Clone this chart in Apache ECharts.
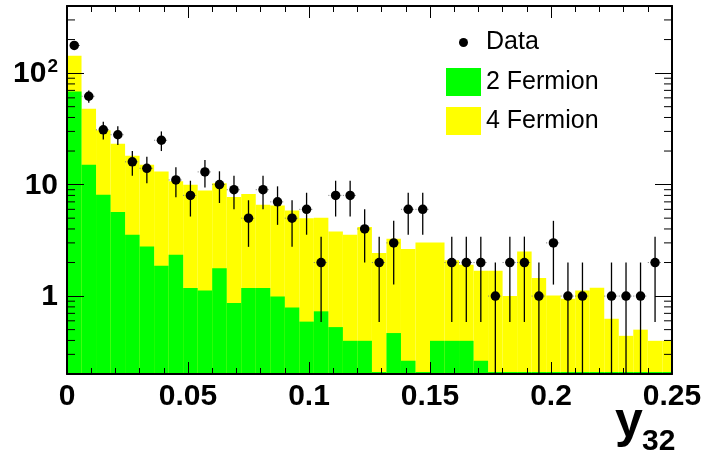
<!DOCTYPE html>
<html>
<head>
<meta charset="utf-8">
<script src="https://cdn.jsdelivr.net/npm/echarts@6/dist/echarts.min.js"></script>
<style>
  html, body { margin: 0; padding: 0; background: #fff; }
  #chart { width: 701px; height: 461px; }
</style>
</head>
<body>
<div id="chart"></div>
<script>
// y32 distribution: 42 bins of width 0.006 starting at 0
const binWidth = 0.006;

// 2-fermion expectation per bin
const twoFermion = [68.4, 15.1, 8.1, 5.67, 3.55, 2.78, 1.87, 2.35, 1.18, 1.12,
                    1.78, 0.865, 1.18, 1.18, 0.99, 0.79, 0.59, 0.73, 0.527, 0.397,
                    0.397, 0, 0.466, 0.263, 0, 0.397, 0.397, 0.397, 0.263, 0,
                    0, 0, 0, 0, 0, 0, 0, 0, 0, 0, 0, 0];

// 4-fermion expectation, stacked on top of the 2-fermion one (bin totals)
const fourFermion = [143, 47.9, 30.8, 23.2, 18.1, 15.1, 13.1, 10.7, 9.96, 8.86,
                     10.3, 7.75, 8.25, 6.59, 6.48, 5.86, 5.0, 5.05, 3.8, 3.55,
                     4.16, 2.43, 3.27, 2.64, 3.03, 3.03, 2.1, 1.91, 1.69, 1.69,
                     1.0, 2.51, 1.45, 1.01, 0.945, 1.12, 1.19, 0.626, 0.44, 0.5,
                     0.397, 0.397];

// observed events per bin
const dataCounts = [177, 62, 31, 28, 16, 14, 25, 11, 8, 13,
                    10, 9, 5, 9, 7, 5, 6, 2, 8, 8,
                    4, 2, 3, 6, 6, 0, 2, 2, 2, 1,
                    2, 2, 1, 3, 1, 1, 0, 1, 1, 1,
                    2, 0];

const xRange = [0, 0.25];
const yRange = [0.2, 400];
const yTickValues = [1, 10, 100];

const FONT = "'Liberation Sans', Arial, Helvetica, sans-serif";

const binCenter = i => (i + 0.5) * binWidth;
const histData = arr => arr.map((v, i) => [binCenter(i), v]);

// log-axis minor ticks at 2..9 of each decade
const yMinorTicks = [];
for (let d = -1; d <= 2; d++) {
  for (let k = 2; k <= 9; k++) {
    const v = k * Math.pow(10, d);
    if (v > yRange[0] && v < yRange[1]) yMinorTicks.push([0, v]);
  }
}

function histRenderer(minHeight) {
  return function (params, api) {
    const xc = api.value(0);
    const v = Math.max(api.value(1), yRange[0]);
    const p0 = api.coord([xc - binWidth / 2, v]);
    const p1 = api.coord([xc + binWidth / 2, yRange[0]]);
    let rect = { x: p0[0], y: p0[1], width: p1[0] - p0[0], height: p1[1] - p0[1] };
    if (rect.height < minHeight) { rect.y = p1[1] - minHeight; rect.height = minHeight; }
    const cs = params.coordSys;
    rect = echarts.graphic.clipRectByRect(rect, { x: cs.x, y: cs.y, width: cs.width, height: cs.height });
    if (!rect) return null;
    return { type: 'rect', shape: rect, style: { fill: api.visual('color') } };
  };
}

function errorRenderer(params, api) {
  const x = api.value(0), n = api.value(1);
  const e = Math.sqrt(n);
  const top = api.coord([x, n + e]);
  const bot = api.coord([x, Math.max(n - e, yRange[0])]);
  const l = api.coord([x - binWidth / 2, n]);
  const r = api.coord([x + binWidth / 2, n]);
  return {
    type: 'group',
    children: [
      { type: 'line', shape: { x1: top[0], y1: top[1], x2: bot[0], y2: bot[1] },
        style: { stroke: '#000', lineWidth: 1.3 } },
      { type: 'line', shape: { x1: l[0], y1: l[1], x2: r[0], y2: r[1] },
        style: { stroke: '#777', lineWidth: 1, lineDash: [1, 2] } }
    ]
  };
}

function minorTickRenderer(params, api) {
  const cs = params.coordSys;
  const y = api.coord([0, api.value(1)])[1];
  const len = 8;
  return {
    type: 'group',
    children: [
      { type: 'line', shape: { x1: cs.x, y1: y, x2: cs.x + len, y2: y }, style: { stroke: '#000', lineWidth: 1 } },
      { type: 'line', shape: { x1: cs.x + cs.width - len, y1: y, x2: cs.x + cs.width, y2: y }, style: { stroke: '#000', lineWidth: 1 } }
    ]
  };
}

const pointData = dataCounts
  .map((n, i) => [binCenter(i), n])
  .filter(p => p[1] > 0);

const axisLineStyle = { color: '#000', width: 2 };

function xAxisDef(position, showLabel) {
  return {
    type: 'value', position: position, min: xRange[0], max: xRange[1], interval: 0.05,
    z: 10,
    axisLine: { show: true, onZero: false, lineStyle: axisLineStyle },
    axisTick: { show: true, inside: true, length: 12, lineStyle: { color: '#000', width: 1 } },
    minorTick: { show: true, splitNumber: 5, length: 6, lineStyle: { color: '#000', width: 1 } },
    splitLine: { show: false }, minorSplitLine: { show: false },
    axisLabel: {
      show: showLabel, margin: 8, color: '#000', fontSize: 30, fontWeight: 'bold', fontFamily: FONT,
      formatter: v => (Math.abs(v) < 1e-9 ? '0' : String(+v.toFixed(3)))
    }
  };
}

function yAxisDef(position, showLabel) {
  return {
    type: 'log', logBase: 10, position: position, min: yRange[0], max: yRange[1],
    z: 10,
    axisLine: { show: true, onZero: false, lineStyle: axisLineStyle },
    axisTick: { show: true, inside: true, length: 17, lineStyle: { color: '#000', width: 1 } },
    splitLine: { show: false },
    axisLabel: {
      show: showLabel, margin: 9, color: '#000', fontSize: 30, fontWeight: 'bold', fontFamily: FONT,
      showMinLabel: false, showMaxLabel: false,
      formatter: function (v) {
        const t = yTickValues.find(tv => Math.abs(v - tv) / tv < 1e-6);
        if (t === undefined) return '';
        if (t === 100) return '{b|10}{s|2}';
        return '{b|' + t + '}';
      },
      rich: {
        b: { fontSize: 30, fontWeight: 'bold', fontFamily: FONT, color: '#000', lineHeight: 32, verticalAlign: 'bottom' },
        s: { fontSize: 19, fontWeight: 'bold', fontFamily: FONT, color: '#000', lineHeight: 32, verticalAlign: 'top', padding: [0, 0, 17, 1] }
      }
    }
  };
}

const chart = echarts.init(document.getElementById('chart'), null, { renderer: 'canvas' });
chart.setOption({
  animation: false,
  backgroundColor: '#fff',
  grid: { left: 67, right: 29, top: 6, bottom: 87, containLabel: false, outerBoundsMode: 'none' },
  xAxis: [xAxisDef('bottom', true), xAxisDef('top', false)],
  yAxis: [yAxisDef('left', true), yAxisDef('right', false)],
  legend: [
    {
      data: [{ name: 'Data', icon: 'circle' }],
      left: 459, top: 30, orient: 'vertical', padding: 0,
      itemWidth: 35, itemHeight: 9,
      itemStyle: { opacity: 1 },
      textStyle: { fontSize: 25, fontFamily: FONT, color: '#000' },
      selectedMode: false
    },
    {
      data: [{ name: '2 Fermion', icon: 'rect' }, { name: '4 Fermion', icon: 'rect' }],
      left: 446, top: 68, orient: 'vertical', padding: 0,
      itemWidth: 35, itemHeight: 28, itemGap: 11,
      textStyle: { fontSize: 25, fontFamily: FONT, color: '#000' },
      selectedMode: false
    }
  ],
  graphic: [
    { type: 'text', left: 615, top: 398, silent: true,
      style: { text: 'y', font: 'bold 50px ' + FONT, fill: '#000' } },
    { type: 'text', left: 642, top: 427, silent: true,
      style: { text: '32', font: 'bold 30px ' + FONT, fill: '#000' } }
  ],
  series: [
    {
      name: '4 Fermion', type: 'custom', coordinateSystem: 'cartesian2d',
      itemStyle: { color: '#ffff00' }, renderItem: histRenderer(0),
      data: histData(fourFermion), z: 1, silent: true
    },
    {
      name: '2 Fermion', type: 'custom', coordinateSystem: 'cartesian2d',
      itemStyle: { color: '#00ff00' }, renderItem: histRenderer(2),
      data: histData(twoFermion), z: 2, silent: true
    },
    {
      name: 'y minor ticks', type: 'custom', coordinateSystem: 'cartesian2d',
      renderItem: minorTickRenderer, data: yMinorTicks, z: 11, silent: true
    },
    {
      name: 'Data errors', type: 'custom', coordinateSystem: 'cartesian2d',
      renderItem: errorRenderer, data: pointData, z: 3, silent: true
    },
    {
      name: 'Data', type: 'scatter', symbol: 'circle', symbolSize: 9.5,
      itemStyle: { color: '#000', opacity: 1 }, data: pointData, z: 4, silent: true
    }
  ]
});
</script>
</body>
</html>
